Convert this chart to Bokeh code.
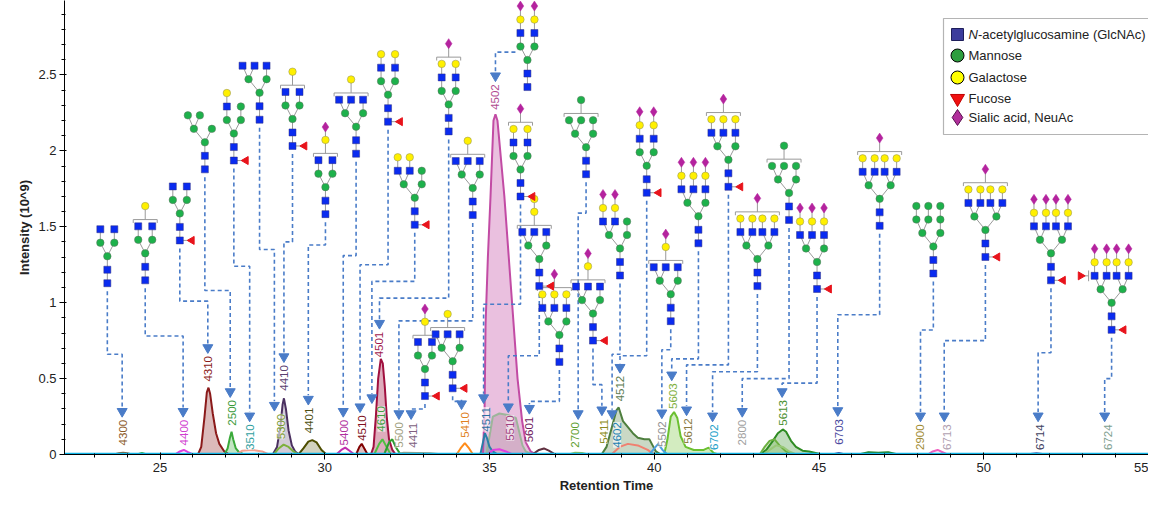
import math
from bokeh.plotting import figure
from bokeh.models import Range1d, Label, SingleIntervalTicker
from bokeh.core.properties import value
from bokeh.embed import file_html
from bokeh.resources import INLINE

FONT = "Liberation Sans"

# ---- chromatogram traces: retention time (min) / intensity (10^9) ----
rt_4300 = [23.6, 23.75, 23.88, 24.0, 24.15]
int_4300 = [0, 0.008, 0.012, 0.008, 0]
rt_blip = [24.3, 24.45, 24.6]
int_blip = [0, 0.01, 0]
rt_4400 = [25.45, 25.6, 25.72, 25.85, 26.0]
int_4400 = [0, 0.02, 0.03, 0.015, 0]
rt_4310 = [26.15, 26.25, 26.35, 26.42, 26.47, 26.52, 26.6, 26.7, 26.8, 26.95, 27.1]
int_4310 = [0, 0.05, 0.25, 0.41, 0.44, 0.4, 0.27, 0.14, 0.07, 0.02, 0]
rt_2500 = [26.95, 27.05, 27.12, 27.17, 27.22, 27.3, 27.4, 27.55]
int_2500 = [0, 0.04, 0.11, 0.15, 0.1, 0.04, 0.015, 0]
rt_3510 = [27.3, 27.5, 27.8, 28.1, 28.3]
int_3510 = [0, 0.025, 0.03, 0.02, 0]
rt_4410 = [28.42, 28.55, 28.65, 28.72, 28.76, 28.82, 28.9, 29.0, 29.1, 29.22]
int_4410 = [0, 0.05, 0.18, 0.33, 0.37, 0.3, 0.16, 0.06, 0.02, 0]
rt_5300 = [28.45, 28.6, 28.75, 28.9, 29.05, 29.2]
int_5300 = [0, 0.04, 0.065, 0.05, 0.02, 0]
rt_4401 = [29.2, 29.35, 29.5, 29.62, 29.75, 29.9, 30.05]
int_4401 = [0, 0.04, 0.085, 0.095, 0.08, 0.03, 0]
rt_5400 = [30.35, 30.5, 30.62, 30.75, 30.9]
int_5400 = [0, 0.03, 0.045, 0.025, 0]
rt_4510 = [30.95, 31.05, 31.12, 31.2, 31.3]
int_4510 = [0, 0.05, 0.07, 0.04, 0]
rt_4501 = [31.4, 31.48, 31.55, 31.62, 31.7, 31.76, 31.82, 31.88, 31.95, 32.05, 32.15]
int_4501 = [0, 0.05, 0.25, 0.5, 0.63, 0.6, 0.45, 0.25, 0.1, 0.03, 0]
rt_4610a = [31.5, 31.65, 31.75, 31.85, 32.0]
int_4610a = [0, 0.07, 0.1, 0.06, 0]
rt_4610b = [31.8, 31.95, 32.05, 32.15, 32.3]
int_4610b = [0, 0.08, 0.1, 0.05, 0]
rt_5500 = [32.1, 32.4, 32.8, 33.2, 33.6]
int_5500 = [0, 0.012, 0.01, 0.008, 0]
rt_5410 = [34.0, 34.12, 34.25, 34.38, 34.5]
int_5410 = [0, 0.04, 0.075, 0.04, 0]
rt_4511 = [34.72, 34.8, 34.86, 34.92, 35.0, 35.1, 35.25]
int_4511 = [0, 0.08, 0.14, 0.11, 0.05, 0.02, 0]
rt_4502 = [34.8, 34.85, 34.88, 34.95, 35.03, 35.12, 35.18, 35.24, 35.45, 35.6, 35.73, 35.85, 35.99, 36.1, 36.25, 36.4]
int_4502 = [0, 0.3, 0.86, 1.3, 1.7, 2.2, 2.24, 2.2, 1.7, 1.25, 0.86, 0.5, 0.22, 0.08, 0.02, 0]
rt_5510 = [34.9, 35.0, 35.1, 35.3, 35.55, 35.8, 35.9, 36.0, 36.1, 36.3]
int_5510 = [0, 0.12, 0.25, 0.27, 0.26, 0.24, 0.15, 0.06, 0.02, 0]
rt_mag = [34.95, 35.1, 35.3, 35.5, 35.7]
int_mag = [0, 0.03, 0.035, 0.02, 0]
rt_5601 = [36.3, 36.5, 36.65, 36.8, 37.0]
int_5601 = [0, 0.03, 0.04, 0.025, 0]
rt_2700 = [37.4, 37.6, 37.8, 38.0]
int_2700 = [0, 0.012, 0.01, 0]
rt_4512 = [38.4, 38.55, 38.7, 38.85, 38.92, 39.05, 39.2, 39.35, 39.5, 39.7, 39.85, 39.95, 40.05, 40.2]
int_4512 = [0, 0.05, 0.17, 0.29, 0.31, 0.22, 0.18, 0.14, 0.11, 0.1, 0.1, 0.06, 0.02, 0]
rt_4602 = [38.7, 38.95, 39.2, 39.5, 39.8, 40.0]
int_4602 = [0, 0.05, 0.07, 0.06, 0.03, 0]
rt_5502 = [39.85, 40.0, 40.12, 40.25, 40.4]
int_5502 = [0, 0.04, 0.07, 0.03, 0]
rt_5603 = [40.3, 40.4, 40.5, 40.6, 40.7, 40.8, 40.95, 41.2, 41.5, 41.65, 41.8, 41.95]
int_5603 = [0, 0.1, 0.25, 0.28, 0.24, 0.12, 0.05, 0.03, 0.03, 0.045, 0.01, 0]
rt_5613 = [43.2, 43.4, 43.6, 43.75, 43.9, 44.0, 44.15, 44.3, 44.5, 44.7, 44.9, 45.1]
int_5613 = [0, 0.03, 0.09, 0.14, 0.165, 0.15, 0.09, 0.05, 0.025, 0.02, 0.01, 0]
rt_5613b = [43.2, 43.35, 43.5, 43.65, 43.8, 44.0, 44.2]
int_5613b = [0, 0.05, 0.09, 0.1, 0.06, 0.02, 0]
rt_5613c = [43.3, 43.5, 43.7, 43.9, 44.1, 44.3]
int_5613c = [0, 0.03, 0.06, 0.05, 0.02, 0]
rt_6703 = [45.4, 45.6, 45.8]
int_6703 = [0, 0.01, 0]
rt_g47 = [46.2, 46.5, 46.8, 47.1, 47.4]
int_g47 = [0, 0.015, 0.012, 0.015, 0]
rt_6713 = [48.3, 48.45, 48.6, 48.75, 48.9]
int_6713 = [0, 0.02, 0.03, 0.015, 0]
rt_6714 = [51.3, 51.6, 51.9]
int_6714 = [0, 0.008, 0]
rt_base = [22.1, 55.0]
int_base = [0.004, 0.004]

# ---- glycan composition labels (HexNAc, Hex, Fuc, NeuAc) ----
codes = ["4300", "4400", "4310", "2500", "3510", "5300", "4410", "4401", "5400", "4510",
         "4501", "4610", "5500", "4411", "5410", "4511", "4502", "5510", "5601", "2700",
         "5411", "4602", "4512", "5502", "5603", "5612", "6702", "2800", "5613", "6703",
         "2900", "6713", "6714", "6724"]
label_rt = [23.88, 25.73, 26.45, 27.18, 27.72, 28.66, 28.76, 29.53, 30.59, 31.13,
            31.64, 31.72, 32.25, 32.67, 34.25, 34.88, 35.18, 35.63, 36.21, 37.60,
            38.47, 38.87, 38.96, 40.23, 40.56, 41.01, 41.80, 42.67, 43.91, 45.60,
            48.08, 48.87, 51.71, 53.76]
label_base = [0.06, 0.06, 0.48, 0.19, 0.03, 0.10, 0.42, 0.14, 0.06, 0.09,
              0.64, 0.15, 0.045, 0.045, 0.11, 0.15, 2.27, 0.09, 0.08, 0.045,
              0.07, 0.045, 0.35, 0.05, 0.30, 0.07, 0.03, 0.06, 0.19, 0.065,
              0.03, 0.03, 0.03, 0.03]
label_color = ["#8B5A2B", "#D040D0", "#8B1A1A", "#3A9A3A", "#30A0A0", "#7A9A30", "#5A4070",
               "#4D4D10", "#B030A0", "#801020", "#A0184D", "#40A040", "#A0A080", "#806080",
               "#E08020", "#2A70A0", "#B04A90", "#A04080", "#702060", "#60A030", "#8A8A20",
               "#2080B0", "#5A7A50", "#909090", "#80B040", "#8A7A40", "#20A0C8", "#A0A0A0",
               "#4A9030", "#4A4AA0", "#A08A30", "#B0A0B0", "#404060", "#80A090"]

# glycan cartoons: bottom residue position, arms, floating residues, core fucose
gly_rt = [23.40, 24.55, 25.60, 26.36, 27.24, 28.02, 29.02, 30.02, 30.95, 31.92,
          33.76, 32.73, 34.49, 33.04, 33.88, 35.94, 36.15, 36.51, 37.12, 37.93,
          38.14, 38.96, 39.77, 40.50, 41.34, 42.25, 43.13, 44.09, 44.94, 46.84,
          48.47, 50.05, 52.04, 53.88]
gly_int = [1.128, 1.147, 1.410, 1.878, 1.936, 2.205, 2.032, 1.583, 1.981, 2.192,
           2.128, 1.513, 1.577, 0.385, 0.436, 1.699, 2.42, 1.109, 0.61, 1.846,
           0.75, 1.179, 1.724, 0.878, 1.391, 1.763, 1.109, 1.545, 1.090, 1.506,
           1.192, 1.301, 1.147, 0.821]
gly_arms = ["N|N", "N|N", "N|N", "M,M|", "NG|M", "N,N|N", "N|N", "N|N", "N,N|N", "NG|NG",
            "NG|NG", "NG,NG|M", "N,N|N", "N|N", "N,N|N", "NG|NG", "NGS|NGS", "N,N|N",
            "NG,NG|NG", "M,M|M", "N,N|N", "NGS,NGS|M", "NGS|NGS", "N,N|N", "NGS,NGS|NGS",
            "NG,NG|NG", "NG,NG|NG,NG", "M,M|M", "NGS,NGS|NGS", "NG,NG|NG,NG", "MM,MM|MM",
            "NG,NG|NG,NG", "NGS,NGS|NGS,NGS", "NGS,NGS|NGS,NGS"]
gly_float = ["", "G", "", "", "", "", "G", "GS", "G", "", "S", "", "G", "GS", "G", "S", "",
             "GG", "S", "M", "GS", "", "", "GS", "", "S", "S", "M", "", "S", "", "S", "", "F"]
gly_fuc = [0, 0, 1, 0, 1, 0, 1, 0, 0, 1, 0, 1, 0, 1, 1, 1, 0, 1, 0, 0,
           1, 0, 1, 0, 0, 1, 0, 0, 1, 0, 0, 1, 1, 1]
gly_elbow = [0.66, 0.78, 1.01, 1.08, 1.24, 1.35, 1.40, 1.38, 1.31, 1.25,
             1.03, 1.14, 0.88, 0.30, 0.35, 0.99, 2.65, 0.65, 0.35, 1.59,
             0.46, 0.66, 0.65, 0.69, 0.63, 0.59, 0.545, 0.50, 0.47, 0.92,
             0.82, 0.75, 0.67, 0.50]
arrow_rt = [23.85, 25.70, 26.45, 27.13, 27.72, 28.47, 28.76, 29.50, 30.56, 31.07,
            31.66, 31.43, 32.25, 32.62, 34.15, 34.82, 35.18, 35.57, 36.21, 37.69,
            38.41, 38.72, 38.96, 40.23, 40.53, 40.98, 41.77, 42.67, 43.88, 45.57,
            48.08, 48.80, 51.65, 53.67]

legend_names = ["-acetylglucosamine (GlcNAc)", "Mannose", "Galactose", "Fucose", "Sialic acid, NeuAc"]

# ---- figure geometry ----
X0, X1, Y0, Y1 = 22.1, 55.0, 0.0, 2.99
LEFT, FW, FH = 64, 1084, 454
XS = (X1 - X0) / FW
YS = (Y1 - Y0) / FH


def X(px):  # canvas pixel -> data x
    return X0 + (px - LEFT) * XS


def Y(py):  # canvas pixel -> data y
    return Y1 - py * YS


p = figure(frame_width=FW, frame_height=FH, x_range=Range1d(X0, X1), y_range=Range1d(Y0, Y1),
           min_border_left=LEFT, min_border_right=0, min_border_top=0, min_border_bottom=39,
           x_axis_label="Retention Time", y_axis_label="Intensity (10^9)",
           output_backend="svg", toolbar_location=None)
p.outline_line_color = None
p.grid.visible = False
p.background_fill_color = "white"

p.xaxis.ticker = SingleIntervalTicker(interval=5, num_minor_ticks=5)
p.yaxis.ticker = SingleIntervalTicker(interval=0.5, num_minor_ticks=5)
p.yaxis.major_label_overrides = {0: "0", 0.5: "0.5", 1: "1", 1.5: "1.5", 2: "2", 2.5: "2.5"}
for ax in (p.xaxis[0], p.yaxis[0]):
    ax.major_label_text_font = FONT
    ax.major_label_text_font_size = "13px"
    ax.major_label_text_color = "#222222"
    ax.axis_label_text_font = FONT
    ax.axis_label_text_font_size = "13px"
    ax.axis_label_text_font_style = "bold"
    ax.axis_label_text_color = "#222222"
    ax.axis_line_color = "black"
    ax.major_tick_line_color = "black"
    ax.minor_tick_line_color = "black"
    ax.major_tick_out = 5
    ax.major_tick_in = 2
    ax.minor_tick_out = 3
    ax.minor_tick_in = 1
    ax.major_label_standoff = 3
    ax.axis_label_standoff = 3

# ---- traces ----
traces = [
    (rt_5510, int_5510, "#9DB59A", 0.35),
    (rt_4502, int_4502, "#C24BA4", 0.35),
    (rt_4310, int_4310, "#8B1A1A", 0.3),
    (rt_2500, int_2500, "#3BAA3B", 0.3),
    (rt_4410, int_4410, "#4B3060", 0.25),
    (rt_4401, int_4401, "#4D4D00", 0.25),
    (rt_4510, int_4510, "#800000", 0.25),
    (rt_4501, int_4501, "#A0103F", 0.35),
    (rt_4511, int_4511, "#2A7FA8", 0.3),
    (rt_4512, int_4512, "#4E7F3E", 0.3),
    (rt_5603, int_5603, "#6CC030", 0.3),
    (rt_5613, int_5613, "#2E8B22", 0.3),
    (rt_5613b, int_5613b, "#6CB040", 0.25),
    (rt_4300, int_4300, "#8B5A2B", 0),
    (rt_blip, int_blip, "#40B040", 0),
    (rt_4400, int_4400, "#E040E0", 0),
    (rt_3510, int_3510, "#F4A090", 0),
    (rt_5300, int_5300, "#7DB03C", 0),
    (rt_5400, int_5400, "#C030B0", 0),
    (rt_4610a, int_4610a, "#50C040", 0),
    (rt_4610b, int_4610b, "#2E9E2E", 0),
    (rt_5500, int_5500, "#A0A080", 0),
    (rt_5410, int_5410, "#FF8C1A", 0),
    (rt_mag, int_mag, "#E040E0", 0),
    (rt_5601, int_5601, "#603040", 0),
    (rt_2700, int_2700, "#90C050", 0),
    (rt_4602, int_4602, "#F08070", 0),
    (rt_5502, int_5502, "#4FA0E0", 0),
    (rt_5613c, int_5613c, "#98C878", 0),
    (rt_6703, int_6703, "#4A4AA0", 0),
    (rt_g47, int_g47, "#208020", 0),
    (rt_6713, int_6713, "#F060C0", 0),
    (rt_6714, int_6714, "#5050A0", 0),
]
for xs, ys, col, alpha in traces:
    if alpha > 0:
        p.varea(x=xs, y1=[0] * len(xs), y2=ys, fill_color=col, fill_alpha=alpha)
for xs, ys, col, alpha in traces:
    p.line(xs, ys, line_color=col, line_width=2)
p.line(rt_base, int_base, line_color="#10B4E6", line_width=2.5)

# ---- glycan cartoons ----
STEP = 13.5
res = {t: ([], []) for t in "NMGS"}
fx, fy, fa = [], [], []
lk_x, lk_y = [], []


def draw_glycan(x0, y0, arms, flt, fuc):
    def pt(ox, lv):
        return x0 + ox * XS, y0 + lv * STEP * YS

    def put(t, ox, lv, parent=None, ang=0.0):
        x, y = pt(ox, lv)
        if t == "F":
            fx.append(x); fy.append(y); fa.append(ang)
        else:
            res[t][0].append(x); res[t][1].append(y)
        if parent is not None:
            lk_x.append([parent[0], x]); lk_y.append([parent[1], y])
        return (x, y)

    a = put("N", 0, 0)
    b = put("N", 0, 1, a)
    c = put("M", 0, 2, b)
    if fuc:
        put("F", 12, 0, a, math.pi / 2)
    top = 3
    ant = []
    for side, arm in zip((-1, 1), arms.split("|")):
        stacks = [s for s in arm.split(",") if s]
        ax = side * (11 if len(stacks) > 1 else 7)
        m = put("M", ax, 3, c)
        offs = [ax] if len(stacks) == 1 else [ax - 6, ax + 6]
        for ox, stack in zip(offs, stacks):
            prev = m
            for k, t in enumerate(stack):
                prev = put(t, ox, 4 + k, prev)
                top = max(top, 4 + k)
            ant.append(ox)
    lo, hi = min(ant), max(ant)
    upper = flt.replace("F", "")
    if upper:
        yb = top + 0.5
        l, r = pt(lo - 5, yb), pt(hi + 5, yb)
        lk_x.append([l[0], r[0]]); lk_y.append([l[1], r[1]])
        for e in (lo - 5, hi + 5):
            u, d = pt(e, yb), pt(e, yb - 0.25)
            lk_x.append([u[0], d[0]]); lk_y.append([u[1], d[1]])
        cx = (lo + hi) / 2
        prev = pt(cx, yb)
        for k, t in enumerate(upper):
            prev = put(t, cx, yb + 1.0 + 0.95 * k, prev)
    if "F" in flt:
        u, d = pt(lo - 6, 3.6), pt(lo - 6, 4.4)
        lk_x.append([u[0], d[0]]); lk_y.append([u[1], d[1]])
        put("F", lo - 14, 4, pt(lo - 6, 4), -math.pi / 2)


for i in range(len(codes)):
    draw_glycan(gly_rt[i], gly_int[i], gly_arms[i], gly_float[i], gly_fuc[i])

# ---- dashed arrows from cartoons to peaks ----
ar_x, ar_y, hd_x, hd_y = [], [], [], []
for i in range(len(codes)):
    gx, gy, e, tx = gly_rt[i], gly_int[i], gly_elbow[i], arrow_rt[i]
    tip = label_base[i] + 30 * YS
    end = tip + 8 * YS
    if e > gy:
        ar_x.append([gx - 12 * XS, tx, tx]); ar_y.append([e, e, end])
    else:
        s = gy - 8 * YS
        ar_x.append([gx, gx, tx, tx]); ar_y.append([s, e, e, end])
    hd_x.append(tx); hd_y.append(tip + 4 * YS)
p.multi_line(ar_x, ar_y, line_color="#4A7CC8", line_width=1.6, line_dash="4 3")
p.scatter(hd_x, hd_y, marker="inverted_triangle", size=10, fill_color="#4A7CC8", line_color="#4A7CC8")

p.multi_line(lk_x, lk_y, line_color="#9A9A9A", line_width=1)
p.scatter(res["N"][0], res["N"][1], marker="square", size=7, fill_color="#0A2BF0", line_color="#303080", line_width=0.5)
p.scatter(res["M"][0], res["M"][1], marker="circle", size=7.5, fill_color="#1DB14B", line_color="#607060", line_width=0.5)
p.scatter(res["G"][0], res["G"][1], marker="circle", size=7.5, fill_color="#FFF000", line_color="#8A8A60", line_width=0.5)
p.scatter(res["S"][0], res["S"][1], marker="diamond", size=10, fill_color="#B4239E", line_color="#B4239E", line_width=0.5)
p.scatter(fx, fy, marker="triangle", size=8, angle=fa, fill_color="#E8131B", line_color="#E8131B")

# ---- peak labels ----
for i, code in enumerate(codes):
    p.add_layout(Label(x=label_rt[i], y=label_base[i], text=code, angle=math.pi / 2,
                       text_align="left", text_baseline="middle", text_font=FONT,
                       text_font_size="11.5px", text_color=label_color[i],
                       background_fill_color="white", background_fill_alpha=0.6))

# ---- monosaccharide key ----
p.quad(left=[X(943)], right=[X(1152)], top=[Y(18)], bottom=[Y(134)],
       fill_color="white", line_color="#B4B4B4", line_width=1.2)
rows = [Y(34), Y(55), Y(77), Y(98), Y(117)]
kx = X(957)
p.scatter([kx], [rows[0]], marker="square", size=12, fill_color="#3C3C9C", line_color="#1E1E5A")
p.scatter([kx], [rows[1]], marker="circle", size=13, fill_color="#2E9E3E", line_color="black")
p.scatter([kx], [rows[2]], marker="circle", size=13, fill_color="#FFFF00", line_color="black")
p.scatter([kx], [rows[3]], marker="inverted_triangle", size=14, fill_color="#F01010", line_color="#C00000")
p.scatter([kx], [rows[4]], marker="diamond", size=16, fill_color="#B02E9A", line_color="#5A1050")
p.text([X(968)], [rows[0]], text=["N"], text_font=value(FONT), text_font_size="13px",
       text_font_style="italic", text_color="#222222", text_baseline="middle")
p.text([X(977.5)] + [X(968)] * 4, rows, text=legend_names, text_font=value(FONT),
       text_font_size="13px", text_color="#222222", text_baseline="middle")

open("out.html", "w").write(file_html(p, INLINE))
